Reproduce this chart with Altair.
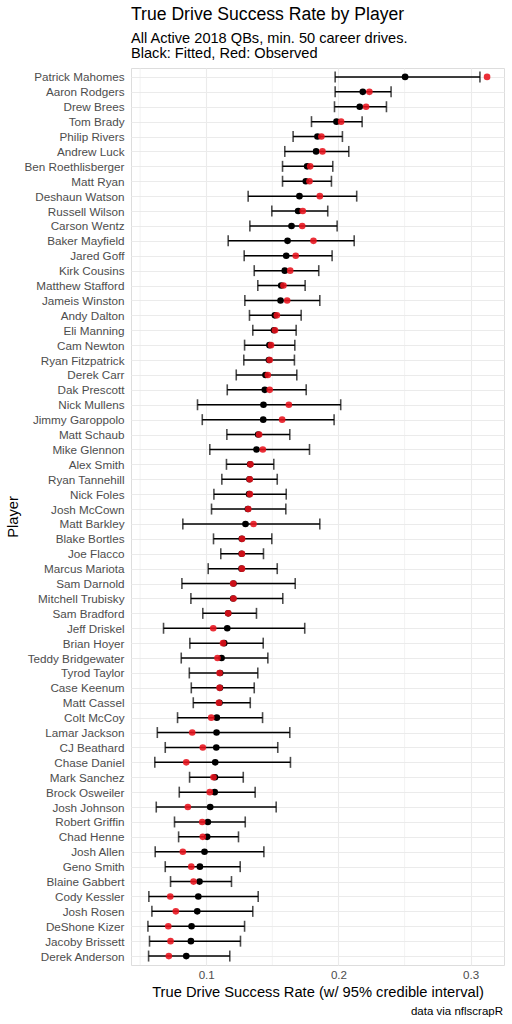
import altair as alt
import pandas as pd

players = [
    "Patrick Mahomes", "Aaron Rodgers", "Drew Brees", "Tom Brady", "Philip Rivers",
    "Andrew Luck", "Ben Roethlisberger", "Matt Ryan", "Deshaun Watson", "Russell Wilson",
    "Carson Wentz", "Baker Mayfield", "Jared Goff", "Kirk Cousins", "Matthew Stafford",
    "Jameis Winston", "Andy Dalton", "Eli Manning", "Cam Newton", "Ryan Fitzpatrick",
    "Derek Carr", "Dak Prescott", "Nick Mullens", "Jimmy Garoppolo", "Matt Schaub",
    "Mike Glennon", "Alex Smith", "Ryan Tannehill", "Nick Foles", "Josh McCown",
    "Matt Barkley", "Blake Bortles", "Joe Flacco", "Marcus Mariota", "Sam Darnold",
    "Mitchell Trubisky", "Sam Bradford", "Jeff Driskel", "Brian Hoyer", "Teddy Bridgewater",
    "Tyrod Taylor", "Case Keenum", "Matt Cassel", "Colt McCoy", "Lamar Jackson",
    "CJ Beathard", "Chase Daniel", "Mark Sanchez", "Brock Osweiler", "Josh Johnson",
    "Robert Griffin", "Chad Henne", "Josh Allen", "Geno Smith", "Blaine Gabbert",
    "Cody Kessler", "Josh Rosen", "DeShone Kizer", "Jacoby Brissett", "Derek Anderson",
]

# posterior mean (fitted) drive success rate
fitted = [
    0.2504, 0.2184, 0.2161, 0.1985, 0.1841, 0.1831, 0.1763, 0.1753, 0.1705, 0.1695,
    0.1645, 0.1615, 0.1605, 0.1594, 0.1567, 0.1562, 0.1519, 0.1512, 0.1478, 0.1474,
    0.1448, 0.1443, 0.1433, 0.1431, 0.1393, 0.1380, 0.1332, 0.1327, 0.1324, 0.1315,
    0.1297, 0.1269, 0.1268, 0.1267, 0.1206, 0.1204, 0.1166, 0.1159, 0.1136, 0.1116,
    0.1105, 0.1104, 0.1100, 0.1080, 0.1078, 0.1076, 0.1068, 0.1066, 0.1064, 0.1030,
    0.1012, 0.1007, 0.0987, 0.0952, 0.0949, 0.0940, 0.0932, 0.0889, 0.0884, 0.0849,
]

# 95% credible interval bounds
lower = [
    0.1975, 0.1975, 0.1970, 0.1796, 0.1657, 0.1594, 0.1577, 0.1577, 0.1317, 0.1496,
    0.1330, 0.1166, 0.1287, 0.1363, 0.1390, 0.1292, 0.1327, 0.1352, 0.1290, 0.1284,
    0.1227, 0.1159, 0.0934, 0.0970, 0.1156, 0.1027, 0.1153, 0.1118, 0.1058, 0.1040,
    0.0823, 0.1055, 0.1110, 0.1015, 0.0816, 0.0884, 0.0974, 0.0677, 0.0876, 0.0811,
    0.0872, 0.0887, 0.0902, 0.0783, 0.0630, 0.0690, 0.0611, 0.0874, 0.0796, 0.0622,
    0.0760, 0.0791, 0.0614, 0.0690, 0.0730, 0.0566, 0.0589, 0.0559, 0.0571, 0.0564,
]
upper = [
    0.3070, 0.2398, 0.2363, 0.2179, 0.2030, 0.2078, 0.1957, 0.1947, 0.2138, 0.1919,
    0.1990, 0.2119, 0.1952, 0.1851, 0.1748, 0.1859, 0.1718, 0.1680, 0.1670, 0.1667,
    0.1685, 0.1756, 0.2017, 0.1967, 0.1632, 0.1781, 0.1511, 0.1537, 0.1605, 0.1602,
    0.1859, 0.1496, 0.1433, 0.1537, 0.1673, 0.1579, 0.1380, 0.1745, 0.1431, 0.1466,
    0.1390, 0.1363, 0.1333, 0.1426, 0.1632, 0.1541, 0.1637, 0.1280, 0.1370, 0.1529,
    0.1295, 0.1244, 0.1436, 0.1257, 0.1191, 0.1393, 0.1352, 0.1290, 0.1259, 0.1178,
]

# raw observed drive success rate
observed = [
    0.3124, 0.2234, 0.2209, 0.2020, 0.1871, 0.1879, 0.1786, 0.1781, 0.1859, 0.1730,
    0.1726, 0.1811, 0.1677, 0.1635, 0.1584, 0.1612, 0.1534, 0.1520, 0.1490, 0.1480,
    0.1466, 0.1480, 0.1625, 0.1574, 0.1400, 0.1428, 0.1334, 0.1329, 0.1330, 0.1318,
    0.1358, 0.1271, 0.1270, 0.1270, 0.1204, 0.1206, 0.1166, 0.1053, 0.1127, 0.1085,
    0.1101, 0.1101, 0.1096, 0.1038, 0.0894, 0.0974, 0.0849, 0.1055, 0.1027, 0.0861,
    0.0970, 0.0974, 0.0823, 0.0887, 0.0904, 0.0728, 0.0770, 0.0713, 0.0730, 0.0717,
]

minor_breaks = [0.05, 0.15, 0.25]
major_breaks = [0.1, 0.2, 0.3]

df = pd.DataFrame({
    "player": players,
    "fitted": fitted,
    "lower": lower,
    "upper": upper,
    "observed": observed,
})

FONT = "Liberation Sans"
W, H = 373, 897
x_dom = [0.0431, 0.3252]

x_scale = alt.Scale(domain=x_dom, nice=False, zero=False)
x_axis = alt.Axis(
    values=major_breaks, format=".1",
    title="True Drive Success Rate (w/ 95% credible interval)",
    titleFont=FONT, titleFontSize=14.7, titleFontWeight="normal",
    titleColor="black", titlePadding=4,
    labelFont=FONT, labelFontSize=11.6, labelColor="#4D4D4D", labelPadding=4,
    ticks=False, domain=False, grid=True, gridColor="#EBEBEB", gridWidth=1.1,
)
y_axis = alt.Axis(
    title="Player", titleFont=FONT, titleFontSize=14.7, titleFontWeight="normal",
    titleColor="black", titlePadding=3,
    labelFont=FONT, labelFontSize=11.7, labelColor="#4D4D4D", labelPadding=7,
    ticks=False, domain=False, grid=True, gridColor="#EBEBEB", gridWidth=1.1,
)
y_scale = alt.Scale(type="point", padding=0.6)

base = alt.Chart(df)

# intervals carry the axes; minor grid rules sit behind everything
interval = base.mark_rule(color="black", strokeWidth=1.5).encode(
    x=alt.X("lower:Q", scale=x_scale, axis=x_axis),
    x2="upper:Q",
    y=alt.Y("player:N", sort=players, scale=y_scale, axis=y_axis),
)

minor_grid = alt.Chart(pd.DataFrame({"v": minor_breaks})).mark_rule(
    color="#EBEBEB", strokeWidth=0.6
).encode(x=alt.X("v:Q", scale=x_scale, axis=x_axis))

cap_lo = base.mark_tick(color="black", thickness=1.6, size=11).encode(
    x=alt.X("lower:Q", scale=x_scale, axis=x_axis),
    y=alt.Y("player:N", sort=players, scale=y_scale, axis=y_axis),
)
cap_hi = base.mark_tick(color="black", thickness=1.6, size=11).encode(
    x=alt.X("upper:Q", scale=x_scale, axis=x_axis),
    y=alt.Y("player:N", sort=players, scale=y_scale, axis=y_axis),
)

pt_fit = base.mark_circle(color="black", size=44, opacity=1).encode(
    x=alt.X("fitted:Q", scale=x_scale, axis=x_axis),
    y=alt.Y("player:N", sort=players, scale=y_scale, axis=y_axis),
)
pt_obs = base.mark_circle(color="#E8121C", size=44, opacity=0.88).encode(
    x=alt.X("observed:Q", scale=x_scale, axis=x_axis),
    y=alt.Y("player:N", sort=players, scale=y_scale, axis=y_axis),
)

caption = alt.Chart(pd.DataFrame({"t": ["data via nflscrapR"]})).mark_text(
    align="right", baseline="middle", font=FONT, fontSize=11.5, color="black"
).encode(text="t:N", x=alt.value(W - 1), y=alt.value(H + 47))

chart = alt.layer(
    minor_grid, interval, cap_lo, cap_hi, pt_fit, pt_obs, caption
).properties(
    width=W,
    height=H,
    title=alt.TitleParams(
        text="True Drive Success Rate by Player",
        subtitle=["All Active 2018 QBs, min. 50 career drives.", "Black: Fitted, Red: Observed"],
        anchor="start", frame="group",
        font=FONT, fontSize=17.6, fontWeight="normal", color="black",
        subtitleFont=FONT, subtitleFontSize=14.6, subtitleColor="black",
        subtitleLineHeight=15, subtitlePadding=8, offset=7,
    ),
    autosize=alt.AutoSizeParams(type="none"),
    padding={"left": 131, "top": 68, "right": 8, "bottom": 59},
).configure_view(stroke=None).configure(background="white")

chart.save("out.html", embed_options={"renderer": "svg", "actions": False})
